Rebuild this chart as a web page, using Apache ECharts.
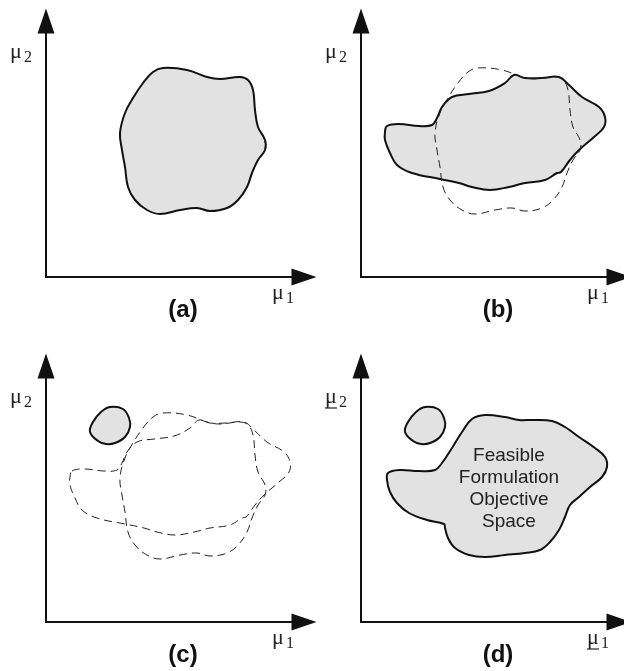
<!DOCTYPE html>
<html><head><meta charset="utf-8">
<script src="https://cdn.jsdelivr.net/npm/echarts@6/dist/echarts.min.js"></script>
<style>html,body{margin:0;padding:0;background:#fff}#c{width:624px;height:671px}</style>
</head><body><div id="c"></div><script>
// ---- data (positions in μ1 / μ2 axis units) ----
const panelLabels = ['(a)', '(b)', '(c)', '(d)'];
const axisSymbol = 'μ';
const xSub = '1';
const ySub = '2';
const descText = ['Feasible', 'Formulation', 'Objective', 'Space'];

// region from panel (a)
const shapeA = [[117,209],[141,207],[161,200],[174,198],[194,200],[202,197],[207,187],[209,167],[212,150],[219,137],[219,127],[212,117],[206,104],[201,90],[192,77],[181,69],[164,66],[151,69],[134,67],[114,63],[101,67],[89,77],[82,90],[79,110],[76,127],[74,144],[79,164],[87,179],[97,194],[107,205]];
// region from panel (b)
const shapeB = [[26,151],[38,153],[58,151],[71,152],[76,159],[81,170],[91,180],[108,183],[128,186],[144,194],[153,202],[164,199],[181,199],[198,200],[208,192],[221,180],[238,170],[244,160],[243,150],[233,140],[218,127],[209,117],[200,105],[196,104],[184,97],[164,94],[148,90],[129,87],[111,90],[98,94],[79,98],[51,104],[36,112],[29,124],[24,137],[24,145]];
// small isolated region (c), (d)
const shapeS = [[64,215],[77,213],[83,204],[84,195],[79,185],[69,179],[60,178],[52,181],[44,190],[47,200],[55,210]];
// union region (d)
const shapeD = [[27,149],[38,152],[58,151],[74,152],[81,159],[91,174],[101,190],[111,203],[124,207],[144,205],[158,202],[171,202],[191,201],[204,195],[218,185],[234,174],[244,165],[246,155],[241,145],[229,135],[218,125],[209,117],[204,105],[198,92],[189,80],[179,72],[164,69],[144,67],[124,65],[108,67],[94,74],[87,84],[84,94],[83,98],[66,102],[48,109],[36,119],[29,130],[26,142]];

const shapes = { A: shapeA, B: shapeB, S: shapeS, D: shapeD };
const panelShapes = [
  [['A', 'solid']],
  [['B', 'solid'], ['A', 'dashed']],
  [['A', 'dashed'], ['B', 'dashed'], ['S', 'solid']],
  [['D', 'solid'], ['S', 'solid']]
];

// ---- layout ----
const W = 258, H = 256;
const gridPos = [[46, 21], [361, 21], [46, 366], [361, 366]];
const XMAX = 258, YMAX = 256;

const grids = [], xAxes = [], yAxes = [], series = [], graphics = [];
const axisLine = {
  show: true, onZero: false, symbol: ['none', 'triangle'], symbolSize: [17, 25],
  lineStyle: { color: '#111', width: 2 }
};
gridPos.forEach(([l, t], i) => {
  grids.push({ left: l, top: t, width: W, height: H });
  xAxes.push({ type: 'value', gridIndex: i, min: 0, max: XMAX, axisLine,
    axisTick: { show: false }, axisLabel: { show: false }, splitLine: { show: false } });
  yAxes.push({ type: 'value', gridIndex: i, min: 0, max: YMAX, axisLine,
    axisTick: { show: false }, axisLabel: { show: false }, splitLine: { show: false } });
  const items = panelShapes[i];
  series.push({
    type: 'custom', xAxisIndex: i, yAxisIndex: i, clip: false, silent: true,
    data: items.map((_, k) => [k, k]),
    renderItem: function (params, api) {
      const it = items[params.dataIndex];
      const pts = shapes[it[0]].map(p => api.coord(p));
      const solid = it[1] === 'solid';
      return {
        type: 'polygon',
        shape: { points: pts, smooth: 0.4 },
        style: solid
          ? { fill: '#e2e2e2', stroke: '#111', lineWidth: 2 }
          : { fill: 'none', stroke: '#222', lineWidth: 1, lineDash: [8, 5] }
      };
    }
  });
  const ox = l, oy = t + H;
  const serif = 'Liberation Serif';
  const col = '#222';
  graphics.push(
    { type: 'text', z: 100, x: ox - 36, y: t + 31, style: { text: axisSymbol, font: '22px ' + serif, fill: col, verticalAlign: 'middle' } },
    { type: 'text', z: 100, x: ox - 22, y: t + 37, style: { text: ySub, font: '16px ' + serif, fill: col, verticalAlign: 'middle' } },
    { type: 'text', z: 100, x: ox + 226, y: oy + 16, style: { text: axisSymbol, font: '22px ' + serif, fill: col, verticalAlign: 'middle' } },
    { type: 'text', z: 100, x: ox + 240, y: oy + 22, style: { text: xSub, font: '16px ' + serif, fill: col, verticalAlign: 'middle' } },
    { type: 'text', z: 100, x: ox + 137, y: oy + 33, style: { text: panelLabels[i], font: 'bold 24px "Liberation Sans"', fill: '#111', align: 'center', verticalAlign: 'middle' } }
  );
  if (i === 3) {
    graphics.push(
      { type: 'line', z: 100, shape: { x1: ox - 36, y1: t + 42, x2: ox - 24, y2: t + 42 }, style: { stroke: col, lineWidth: 1.2 } },
      { type: 'line', z: 100, shape: { x1: ox + 226, y1: oy + 27, x2: ox + 238, y2: oy + 27 }, style: { stroke: col, lineWidth: 1.2 } },
      { type: 'text', z: 100, x: 509, y: 489, style: { text: descText.join('\n'), font: '19px "Liberation Sans"', lineHeight: 22, fill: '#222', align: 'center', verticalAlign: 'middle' } }
    );
  }
});

const chart = echarts.init(document.getElementById('c'), null, { renderer: 'canvas' });
chart.setOption({
  animation: false,
  backgroundColor: '#fff',
  grid: grids, xAxis: xAxes, yAxis: yAxes, series,
  graphic: graphics
});
</script></body></html>
